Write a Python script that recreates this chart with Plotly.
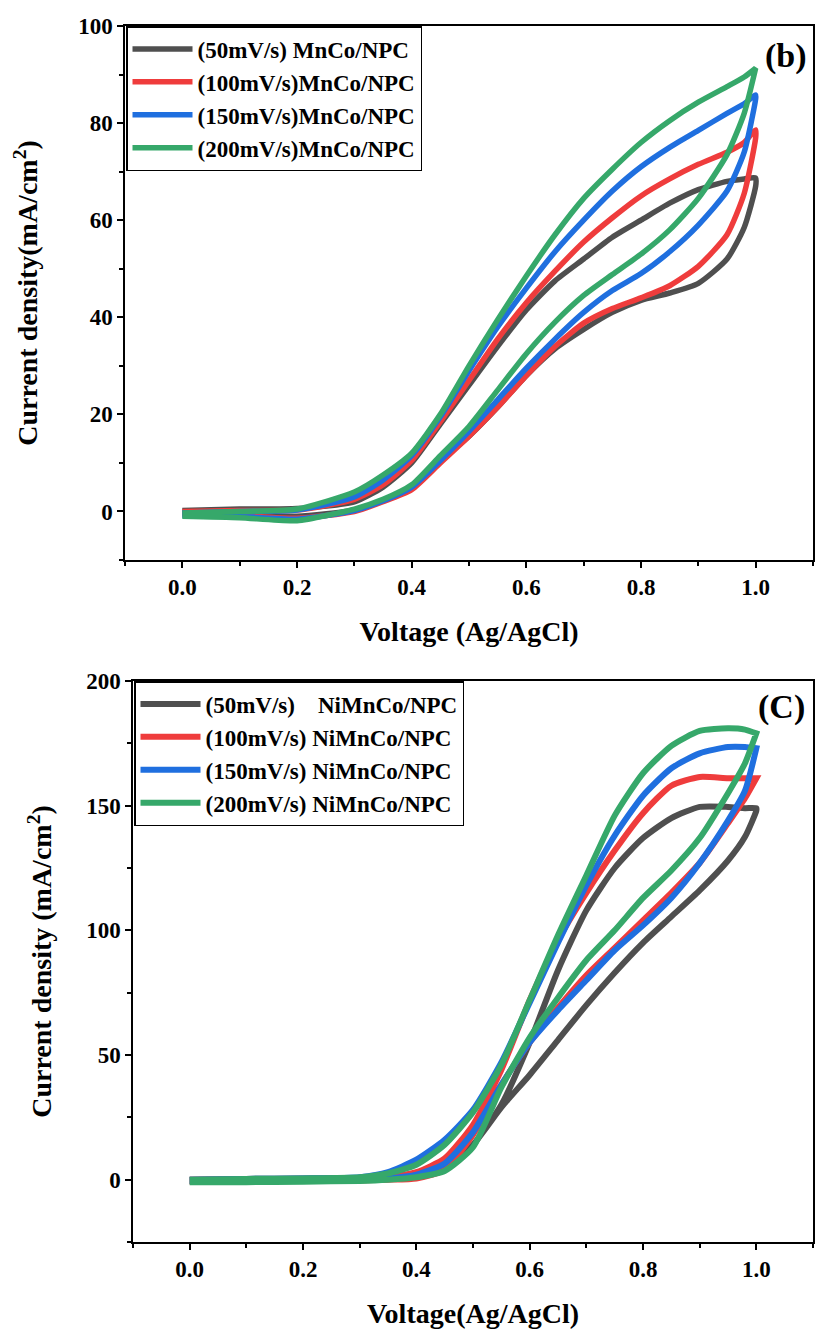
import plotly.graph_objects as go

# ---------------- data ----------------
V_GRID = [0, 0.1, 0.2, 0.3, 0.35, 0.4, 0.45, 0.5, 0.55, 0.6, 0.65, 0.7, 0.75, 0.8, 0.85, 0.9, 0.95, 0.98, 1.0]

# Panel (b): MnCo/NPC  (lower-current branch, then higher-current branch; both on V_GRID)
b_labels = ["(50mV/s) MnCo/NPC", "(100mV/s)MnCo/NPC", "(150mV/s)MnCo/NPC", "(200mV/s)MnCo/NPC"]
b_50_low = [-0.3, -0.6, -1.0, 0.3, 2.2, 5, 10.5, 15.5, 21.5, 28, 33.5, 37.5, 41, 43.5, 45, 47, 52, 58.5, 67]
b_50_high = [0.2, 0.5, 0.6, 2, 5, 10, 18, 26, 34, 41.5, 47.5, 52, 56.5, 60, 63.5, 66.3, 68, 68.5, 68.7]
b_100_low = [-0.5, -0.8, -1.4, 0, 2, 4.5, 10, 15.5, 21.5, 28, 34, 38.8, 41.8, 44, 46.5, 50.5, 57, 65.5, 77]
b_100_high = [0, 0.2, 0.3, 2.5, 5.5, 10.5, 18.5, 27, 35.5, 43, 49.5, 55.5, 60.5, 65, 68.5, 71.5, 74, 76, 78.6]
b_150_low = [-0.8, -1.0, -1.6, 0.2, 2.2, 5, 10.5, 16.5, 23, 29.5, 35.5, 41, 45.5, 49, 53.5, 59, 66, 74, 85]
b_150_high = [-0.3, 0, 0.3, 3, 6.5, 11.5, 19.5, 29, 38, 46, 53.5, 60, 66, 71, 75, 78.5, 82, 84, 85.8]
b_200_low = [-1.0, -1.3, -1.9, 0.5, 2.5, 5.5, 11.5, 17.5, 25, 32.5, 39, 44.5, 48.8, 53, 58, 64.5, 73.5, 82, 91.3]
b_200_high = [-0.3, 0, 0.5, 4, 7.5, 12, 20, 30, 39.5, 48.5, 57, 64.5, 70.5, 76, 80.5, 84.3, 87.5, 89.5, 91.3]

# Panel (C): NiMnCo/NPC
c_labels = ["(50mV/s)\u00a0\u00a0\u00a0\u00a0NiMnCo/NPC", "(100mV/s) NiMnCo/NPC", "(150mV/s) NiMnCo/NPC", "(200mV/s) NiMnCo/NPC"]
c_50_low = [-0.5, -0.3, -0.2, 0, 0.3, 1, 4, 14, 29, 42, 56, 70, 83, 95, 105.5, 116, 128, 137.5, 148]
c_50_high = [0, 0.3, 0.5, 0.5, 0.8, 1.5, 5, 14, 30, 55, 84, 108, 125, 137, 145, 149.5, 149.5, 149, 149]
c_100_low = [-0.8, -0.6, -0.5, -0.3, 0, 0.5, 4, 18, 38, 55, 69, 82, 93, 104, 115, 127, 143, 153, 161]
c_100_high = [0, 0.2, 0.3, 0.5, 1, 3, 8.5, 22, 44, 72, 96, 115, 132, 147, 158, 161.5, 161, 161, 161]
c_150_low = [-0.5, -0.5, -0.3, 0, 0.5, 2, 6.5, 19, 38, 55, 68, 80, 92, 102, 113, 127, 144, 156, 173]
c_150_high = [0, 0.3, 0.5, 1, 3, 8, 16, 28, 47, 71, 95, 118, 138, 154, 165, 171, 173.5, 173.5, 173]
c_200_low = [-1, -1, -0.8, -0.5, 0, 1, 3.5, 13, 37, 57, 73, 88, 100, 113, 124, 137, 155, 167, 179]
c_200_high = [0, 0.3, 0.5, 1, 2.5, 6, 14, 27, 46, 72, 98, 122, 146, 163, 174, 180, 181, 180.5, 179]

COLORS = ["#4f4f4f", "#ef3c3c", "#1f6fdf", "#36a86a"]

# ---------------- figure ----------------
FONT = "Liberation Serif"
fig = go.Figure()


def loop(v, low, high):
    xs = list(v) + list(reversed(v))
    ys = list(low) + list(reversed(high))
    return xs, ys


b_sets = [(b_50_low, b_50_high), (b_100_low, b_100_high), (b_150_low, b_150_high), (b_200_low, b_200_high)]
c_sets = [(c_50_low, c_50_high), (c_100_low, c_100_high), (c_150_low, c_150_high), (c_200_low, c_200_high)]

for i, (lo, hi) in enumerate(b_sets):
    xs, ys = loop(V_GRID, lo, hi)
    fig.add_trace(go.Scatter(x=xs, y=ys, mode="lines", name=b_labels[i],
                             line=dict(color=COLORS[i], width=5.5, shape="spline", smoothing=0.6),
                             xaxis="x", yaxis="y", legend="legend"))
for i, (lo, hi) in enumerate(c_sets):
    xs, ys = loop(V_GRID, lo, hi)
    fig.add_trace(go.Scatter(x=xs, y=ys, mode="lines", name=c_labels[i],
                             line=dict(color=COLORS[i], width=6, shape="spline", smoothing=0.6),
                             xaxis="x2", yaxis="y2", legend="legend2"))

W, H = 817, 1331
tickfont = dict(family=FONT, size=23, color="black", weight="bold")
titlefont = dict(family=FONT, size=28, color="black", weight="bold")


def xax(dom, anchor, title):
    return dict(domain=dom, anchor=anchor, range=[-0.1, 1.1], dtick=0.2, tick0=0, tickformat=".1f",
                showline=True, mirror=True, linecolor="black", linewidth=1.5,
                ticks="outside", ticklen=6, tickwidth=1.5, tickcolor="black",
                minor=dict(dtick=0.1, ticks="outside", ticklen=4, tickwidth=1.5, tickcolor="black"),
                showgrid=False, zeroline=False, tickfont=tickfont, automargin=False,
                title=dict(text=title, font=titlefont, standoff=22))


def yax(dom, anchor, rng, dt, title, standoff):
    return dict(domain=dom, anchor=anchor, range=rng, dtick=dt, tick0=0,
                showline=True, mirror=True, linecolor="black", linewidth=1.5,
                ticks="outside", ticklen=6, tickwidth=1.5, tickcolor="black",
                minor=dict(dtick=dt / 2, ticks="outside", ticklen=4, tickwidth=1.5, tickcolor="black"),
                showgrid=False, zeroline=False, tickfont=tickfont, automargin=False,
                title=dict(text=title, font=titlefont, standoff=standoff))


fig.update_layout(
    width=W, height=H,
    margin=dict(l=0, r=0, t=0, b=0, autoexpand=False),
    paper_bgcolor="white", plot_bgcolor="white",
    xaxis=xax([125 / W, 813 / W], "y", "Voltage (Ag/AgCl)"),
    yaxis=yax([1 - 560 / H, 1 - 26 / H], "x", [-10, 100], 20, "Current density(mA/cm<sup>2</sup>)", 32),
    xaxis2=xax([133 / W, 813 / W], "y2", "Voltage(Ag/AgCl)"),
    yaxis2=yax([1 - 1242 / H, 1 - 681 / H], "x2", [-25, 200], 50, "Current density (mA/cm<sup>2</sup>)", 26),
    legend=dict(x=126 / W, y=1 - 26 / H, xanchor="left", yanchor="top",
                bgcolor="white", bordercolor="black", borderwidth=1.5,
                font=dict(family=FONT, size=23, color="black", weight="bold"),
                itemwidth=60, tracegroupgap=0),
    legend2=dict(x=134 / W, y=1 - 681 / H, xanchor="left", yanchor="top",
                 bgcolor="white", bordercolor="black", borderwidth=1.5,
                 font=dict(family=FONT, size=23, color="black", weight="bold"),
                 itemwidth=60, tracegroupgap=0),
    annotations=[
        dict(text="(b)", x=786 / W, y=1 - 56 / H, xref="paper", yref="paper", showarrow=False,
             xanchor="center", yanchor="middle",
             font=dict(family=FONT, size=34, color="black", weight="bold")),
        dict(text="(C)", x=781 / W, y=1 - 707 / H, xref="paper", yref="paper", showarrow=False,
             xanchor="center", yanchor="middle",
             font=dict(family=FONT, size=34, color="black", weight="bold")),
    ],
)

fig.write_html("out.html")
